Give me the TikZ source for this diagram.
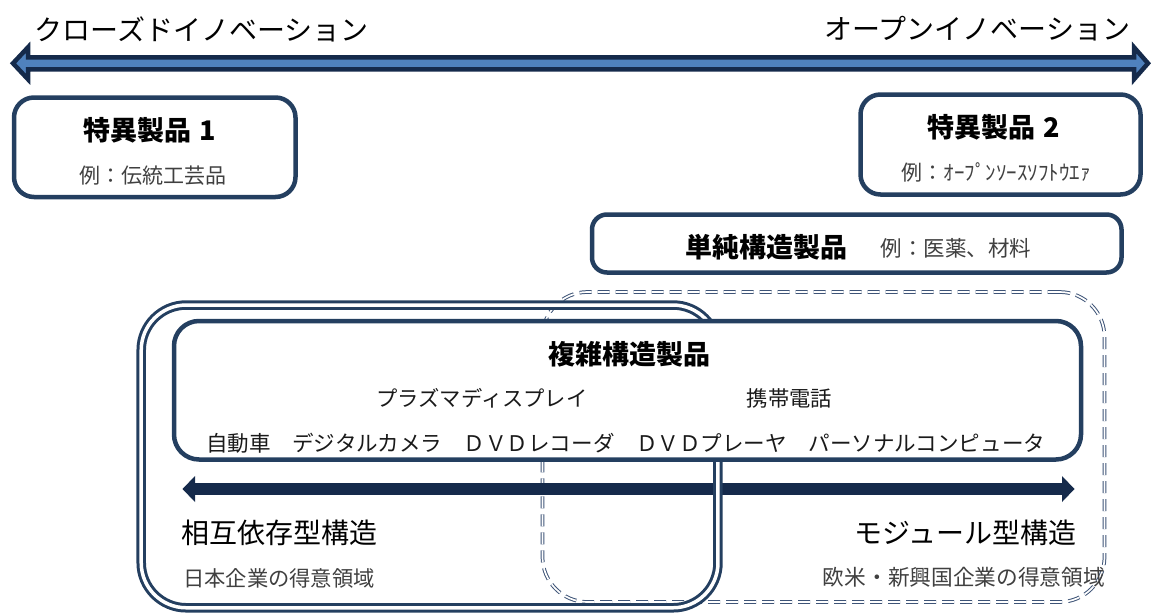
\documentclass[tikz,border=0pt]{standalone}
\usepackage{fontspec}
\setmainfont{Noto Sans CJK JP}
\usetikzlibrary{arrows.meta}
\definecolor{navy}{HTML}{243F60}
\definecolor{arrowdark}{HTML}{152A4B}
\definecolor{arrowlight}{HTML}{4F81BD}
\definecolor{dashcol}{HTML}{3E5477}
\definecolor{subgray}{HTML}{404040}
\definecolor{itemcol}{HTML}{1A1A1A}
\newcommand\fsz[1]{\fontsize{#1pt}{#1pt}\selectfont}
\begin{document}
\begin{tikzpicture}[x=1pt,y=-1pt,
  box/.style={draw=navy, line width=4.5pt, fill=white, rounded corners=20pt, inner sep=0pt},
  dashbox/.style={draw=dashcol, double=white, line width=1pt, double distance=1.7pt,
     dash pattern=on 12pt off 6pt, rounded corners=45pt, inner sep=0pt},
  dblbox/.style={draw=navy, double=white, line width=3pt, double distance=3.5pt,
     rounded corners=45pt, inner sep=0pt},
  toparrow/.style={draw=arrowdark, fill=arrowlight, line width=4.5pt, line join=miter},
  midarrow/.style={draw=arrowdark, line width=11.7pt,
     {Triangle[length=12.5pt,width=26pt,line width=0pt]}-{Triangle[length=12.5pt,width=26pt,line width=0pt]}},
  txt/.style={inner sep=0pt, anchor=center},
  headtxt/.style={txt, text=black, font=\fsz{28}},
  titletxt/.style={txt, text=black, font=\fsz{27}\bfseries},
  subtxt/.style={txt, text=subgray, font=\fsz{21}},
  itemtxt/.style={txt, text=itemcol, font=\fsz{21.3}},
  structtxt/.style={txt, text=black, font=\fsz{28}},
]
\useasboundingbox (0,0) rectangle (1151,613);

% top arrow
\coordinate (lt) at (13,63.3);
\coordinate (rt) at (1148,63.3);
\draw[toparrow] (lt) -- (28,47.3) -- (28,57.3) -- (1134,57.3) -- (1134,47.3) -- (rt)
   -- (1134,79.3) -- (1134,69.3) -- (28,69.3) -- (28,79.3) -- cycle;
\node[headtxt] (closed) at (201.5,29) {クローズドイノベーション};
\node[headtxt] (open) at (977.5,29) {オープンイノベーション};

% special products
\node[box, minimum width=281.5pt, minimum height=99.5pt] (sp1) at (154.75,147.25) {};
\node[titletxt] (sp1t) at (150,130) {特異製品\hspace{8pt}1};
\node[subtxt] (sp1s) at (153,176) {例：伝統工芸品};
\node[box, minimum width=280pt, minimum height=100pt] (sp2) at (1000.5,144.5) {};
\node[titletxt] (sp2t) at (993.5,127) {特異製品\hspace{8pt}2};
\node[subtxt] (sp2s) at (996,172) {例：ｵｰﾌﾟﾝｿｰｽｿﾌﾄｳｴｧ};

% simple structure
\node[box, rounded corners=15pt, minimum width=529.5pt, minimum height=58pt] (simple) at (856.75,243.5) {};
\node[titletxt] (simplet) at (766.5,247) {単純構造製品};
\node[subtxt, font=\fsz{21.5}] (simples) at (956,248) {例：医薬、材料};

% modular (dashed) region
\node[dashbox, minimum width=562pt, minimum height=310pt] (modreg) at (823.5,447) {};

% middle arrow
\coordinate (ml) at (182.5,489);
\coordinate (mr) at (1074.5,489);
\draw[midarrow] (ml) -- (mr);

% interdependent (double) region
\node[dblbox, minimum width=576.75pt, minimum height=302.75pt] (intreg) at (429.6,456.4) {};

% complex products
\node[box, rounded corners=25pt, minimum width=907pt, minimum height=138.5pt] (complex) at (627.5,390.25) {};
\node[titletxt] (complext) at (629.5,354) {複雑構造製品};
\node[itemtxt] (plasma) at (482,398) {プラズマディスプレイ};
\node[itemtxt] (keitai) at (789.5,398) {携帯電話};
\node[itemtxt, font=\fsz{21.55}, anchor=west] (items) at (206,443) {自動車　デジタルカメラ　ＤＶＤレコーダ　ＤＶＤプレーヤ　パーソナルコンピュータ};

% structure labels
\node[structtxt] (intlab) at (279,533) {相互依存型構造};
\node[subtxt, font=\fsz{21.3}] (intsub) at (279,578) {日本企業の得意領域};
\node[structtxt] (modlab) at (965.5,533) {モジュール型構造};
\node[subtxt, font=\fsz{21.7}] (modsub) at (964,577) {欧米・新興国企業の得意領域};
\end{tikzpicture}
\end{document}
